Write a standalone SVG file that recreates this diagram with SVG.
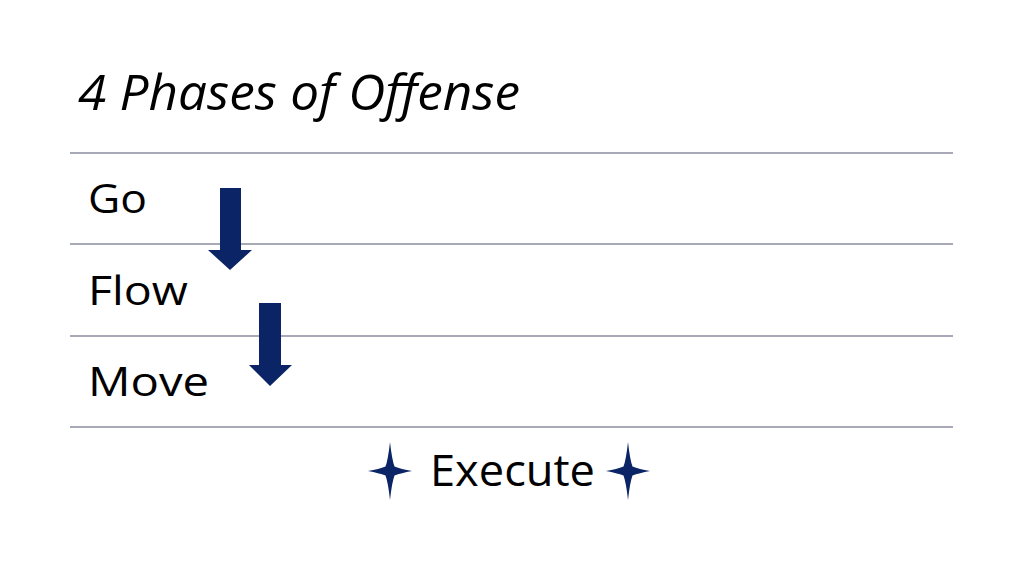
<svg xmlns="http://www.w3.org/2000/svg" width="1024" height="576" viewBox="0 0 1024 576">
<style>
.t{font-family:"Open Sans",Lato,"Liberation Sans",sans-serif;fill:#000}
.rule{stroke:#8a8e9e;stroke-width:1.3}
.nav{fill:#0b2466}
</style>
<defs>
<path id="star" d="M0,-29 Q2,-11 4.5,-4.5 Q11,-2 22,0 Q11,2 4.5,4.5 Q2,11 0,29 Q-2,11 -4.5,4.5 Q-11,2 -22,0 Q-11,-2 -4.5,-4.5 Q-2,-11 0,-29Z"/>
</defs>
<rect width="1024" height="576" fill="#fff"/>
<g id="title"><text class="t" x="78" y="110" font-size="49" font-style="italic" textLength="442" lengthAdjust="spacingAndGlyphs">4 Phases of Offense</text></g>
<g id="rules">
<line class="rule" x1="70" y1="153" x2="953" y2="153"/>
<line class="rule" x1="70" y1="244" x2="953" y2="244"/>
<line class="rule" x1="70" y1="336" x2="953" y2="336"/>
<line class="rule" x1="70" y1="427" x2="953" y2="427"/>
</g>
<g id="go"><text class="t" x="88" y="213" font-size="41" textLength="59" lengthAdjust="spacingAndGlyphs">Go</text></g>
<g id="flow"><text class="t" x="88" y="305" font-size="41" textLength="100" lengthAdjust="spacingAndGlyphs">Flow</text></g>
<g id="move"><text class="t" x="88" y="396" font-size="41" textLength="121" lengthAdjust="spacingAndGlyphs">Move</text></g>
<g id="connectors">
<path class="nav" d="M220,188 H241 V250 H252 L230,270 L208,250 H220 Z"/>
<path class="nav" d="M259,303 H281 V365 H292 L270,386 L249,365 H259 Z"/>
</g>
<g id="execute">
<use href="#star" x="390" y="471" class="nav"/>
<text class="t" x="430" y="486" font-size="44" textLength="165" lengthAdjust="spacingAndGlyphs">Execute</text>
<use href="#star" x="628" y="471" class="nav"/>
</g>
</svg>
